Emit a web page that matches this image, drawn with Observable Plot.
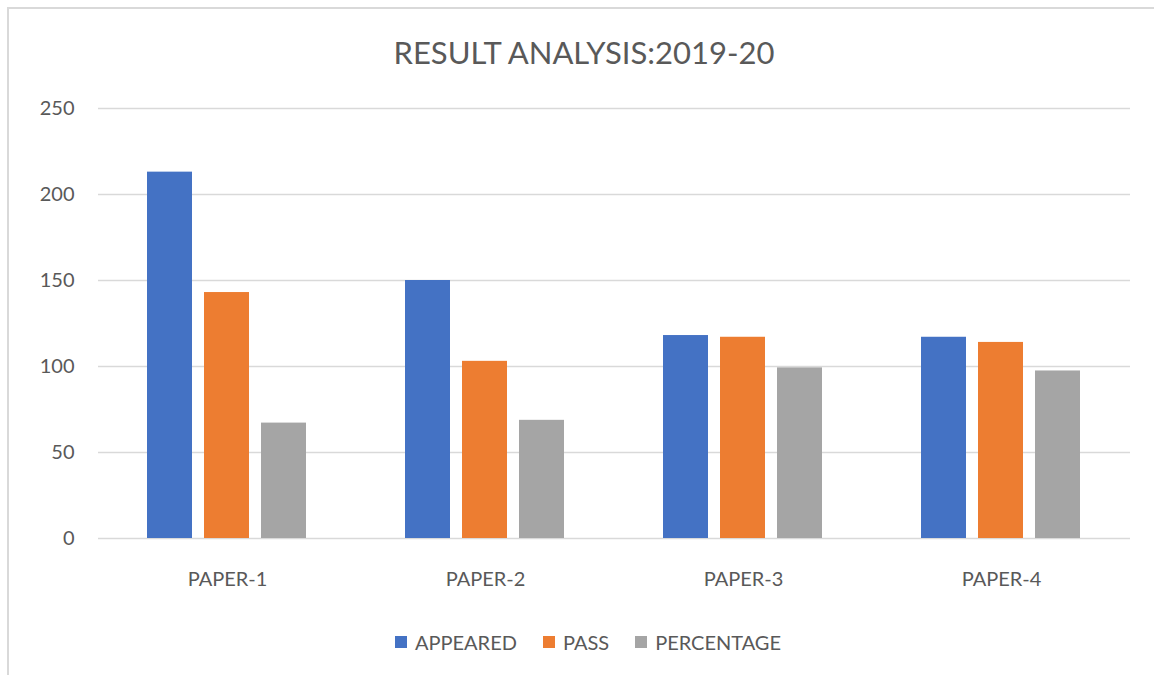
<!DOCTYPE html>
<html>
<head>
<meta charset="utf-8">
<script src="https://cdn.jsdelivr.net/npm/d3@7"></script>
<script src="https://cdn.jsdelivr.net/npm/@observablehq/plot@0.6"></script>
<style>
  html, body { margin: 0; padding: 0; background: #fff; }
  #wrap { position: relative; width: 1154px; height: 675px; overflow: hidden; font-family: Lato, "Open Sans", sans-serif; color: #595959; }
  #frame { position: absolute; left: 7px; top: 7px; width: 1170px; height: 700px; border-top: 2px solid #d9d9d9; border-left: 2px solid #d9d9d9; }
  #title { position: absolute; left: 8px; width: 1152px; top: 32px; height: 40px; line-height: 40px; text-align: center; font-size: 31px; font-weight: 400; }
  #chart { position: absolute; left: -1px; top: 90px; }
  #legend { position: absolute; left: 0; width: 1176px; top: 626px; height: 32px; line-height: 32px; display: flex; justify-content: center; align-items: center; font-size: 20px; }
  .item { display: flex; align-items: center; margin: 0 13px; }
  .sw { width: 12px; height: 12px; margin-right: 8px; }
</style>
</head>
<body>
<div id="wrap">
  <div id="frame"></div>
  <div id="title"></div>
  <div id="chart"></div>
  <div id="legend"></div>
</div>
<script>
const titleText = "RESULT ANALYSIS:2019-20";
const papers = ["PAPER-1", "PAPER-2", "PAPER-3", "PAPER-4"];
const series = ["APPEARED", "PASS", "PERCENTAGE"];
const appeared = [213, 150, 118, 117];
const pass = [143, 103, 117, 114];
const percentage = [67.1, 68.7, 99.2, 97.4];
const colors = ["#4472C4", "#ED7D31", "#A5A5A5"];
const yTicks = [0, 50, 100, 150, 200, 250];

const seriesValues = [appeared, pass, percentage];
const rows = [];
papers.forEach((p, i) => {
  series.forEach((s, j) => rows.push({paper: p, series: s, value: seriesValues[j][i]}));
});

document.getElementById("title").textContent = titleText;

const chart = Plot.plot({
  width: 1154,
  height: 510,
  marginTop: 18,
  marginBottom: 62,
  marginLeft: 98,
  marginRight: 22,
  style: {fontFamily: "Lato, 'Open Sans', sans-serif", fontSize: "20px", color: "#595959", background: "transparent"},
  facet: {data: rows, x: "paper"},
  fx: {domain: papers, paddingInner: 0, paddingOuter: 0, axis: "bottom", tickSize: 0, tickPadding: 33, label: null},
  x: {domain: series, paddingInner: 0.21, paddingOuter: 0.85, axis: null},
  y: {domain: [0, 250], ticks: yTicks, tickSize: 0, tickPadding: 24, label: null, grid: false},
  color: {domain: series, range: colors},
  marks: [
    Plot.ruleY(yTicks, {stroke: "#d9d9d9", strokeWidth: 1.5}),
    Plot.barY(rows, {x: "series", y: "value", fill: "series", inset: 0})
  ]
});
document.getElementById("chart").appendChild(chart);

const legend = document.getElementById("legend");
series.forEach((s, j) => {
  const item = document.createElement("div");
  item.className = "item";
  const sw = document.createElement("div");
  sw.className = "sw";
  sw.style.background = colors[j];
  const t = document.createElement("span");
  t.textContent = s;
  item.appendChild(sw);
  item.appendChild(t);
  legend.appendChild(item);
});
</script>
</body>
</html>
